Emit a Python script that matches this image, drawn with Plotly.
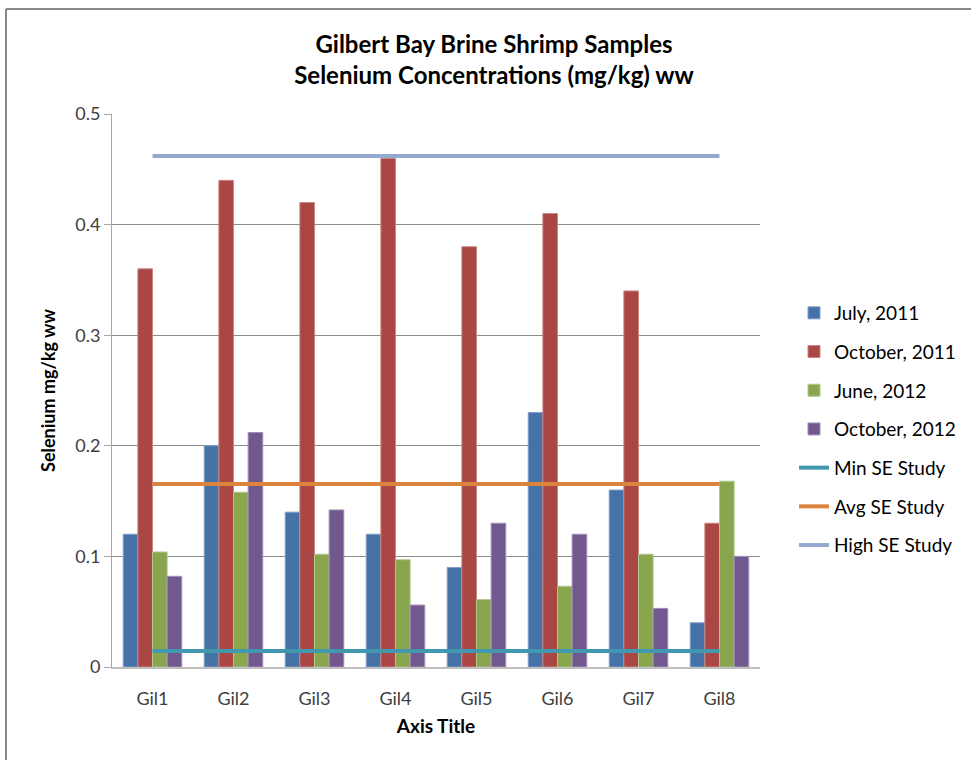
import plotly.graph_objects as go

categories = ["Gil1", "Gil2", "Gil3", "Gil4", "Gil5", "Gil6", "Gil7", "Gil8"]
july_2011 = [0.12, 0.20, 0.14, 0.12, 0.09, 0.23, 0.16, 0.04]
october_2011 = [0.36, 0.44, 0.42, 0.46, 0.38, 0.41, 0.34, 0.13]
june_2012 = [0.104, 0.158, 0.102, 0.097, 0.061, 0.073, 0.102, 0.168]
october_2012 = [0.082, 0.212, 0.142, 0.056, 0.130, 0.120, 0.053, 0.100]
min_se_study = [0.0145, 0.0145, 0.0145, 0.0145, 0.0145, 0.0145, 0.0145, 0.0145]
avg_se_study = [0.1655, 0.1655, 0.1655, 0.1655, 0.1655, 0.1655, 0.1655, 0.1655]
high_se_study = [0.462, 0.462, 0.462, 0.462, 0.462, 0.462, 0.462, 0.462]

FONT = "Lato"
W, H = 971, 760
L, R, T, B = 112, 760, 114, 667

fig = go.Figure()

bars = [
    ("July, 2011", july_2011, "#4572A7", "#7F9DC6"),
    ("October, 2011", october_2011, "#AA4643", "#C88886"),
    ("June, 2012", june_2012, "#89A54E", "#B3C88E"),
    ("October, 2012", october_2012, "#71588F", "#A090B4"),
]
for i, (name, vals, col, lc) in enumerate(bars):
    fig.add_trace(go.Bar(
        x=categories, y=vals, name=name,
        marker=dict(color=col, line=dict(color=lc, width=1)),
        legendgroup=f"g{i}",
    ))

lines = [
    ("Min SE Study", min_se_study, "#4198AF"),
    ("Avg SE Study", avg_se_study, "#DB843D"),
    ("High SE Study", high_se_study, "#93A9CF"),
]
for j, (name, vals, col) in enumerate(lines):
    fig.add_trace(go.Scatter(
        x=categories, y=vals, name=name, mode="lines",
        line=dict(color=col, width=4),
        legendgroup=f"l{j}",
    ))

def px_x(p):
    return (p - L) / (R - L)

def px_y(p):
    return (B - p) / (B - T)

fig.update_layout(
    width=W, height=H,
    margin=dict(l=L, r=W - R, t=T, b=H - B, pad=0, autoexpand=False),
    paper_bgcolor="white", plot_bgcolor="white",
    font=dict(family=FONT, size=18, color="#404040"),
    barmode="group", bargap=0.277, bargroupgap=0,
    title=dict(
        text="<b>Gilbert Bay Brine Shrimp Samples<br>Selenium Concentrations (mg/kg) ww</b>",
        x=494 / W, xanchor="center", xref="container",
        y=1 - 53 / H, yanchor="middle", yref="container",
        font=dict(family=FONT, size=24, color="#000000"),
    ),
    legend=dict(
        x=px_x(794), xanchor="left", y=px_y(294), yanchor="top",
        traceorder="grouped", tracegroupgap=11,
        font=dict(family=FONT, size=19, color="#000000"),
        bgcolor="rgba(0,0,0,0)",
    ),
    xaxis=dict(
        showline=True, linecolor="#BFBFBF", linewidth=2,
        ticks="", showgrid=False, ticklabelstandoff=14,
        tickfont=dict(size=18, color="#404040"),
        title=dict(text="<b>Axis Title</b>", standoff=12,
                   font=dict(size=19, color="#000000")),
    ),
    yaxis=dict(
        range=[0, 0.5], dtick=0.1, tick0=0,
        showline=True, linecolor="#A6A6A6", linewidth=1,
        ticks="outside", ticklen=7, tickcolor="#A6A6A6",
        showgrid=True, gridcolor="#8C8C8C", gridwidth=1,
        zeroline=False,
        tickfont=dict(size=18, color="#404040"),
        title=dict(text="<b>Selenium mg/kg ww</b>", standoff=14,
                   font=dict(size=18, color="#000000")),
    ),
    shapes=[
        dict(type="line", xref="paper", yref="paper",
             x0=px_x(6), x1=px_x(980), y0=px_y(9), y1=px_y(9),
             line=dict(color="#888888", width=2)),
        dict(type="line", xref="paper", yref="paper",
             x0=px_x(6), x1=px_x(6), y0=px_y(9), y1=px_y(780),
             line=dict(color="#888888", width=2)),
    ],
)

fig.write_html("out.html", config={"displayModeBar": False},
               post_script="document.body.style.margin='0';")
